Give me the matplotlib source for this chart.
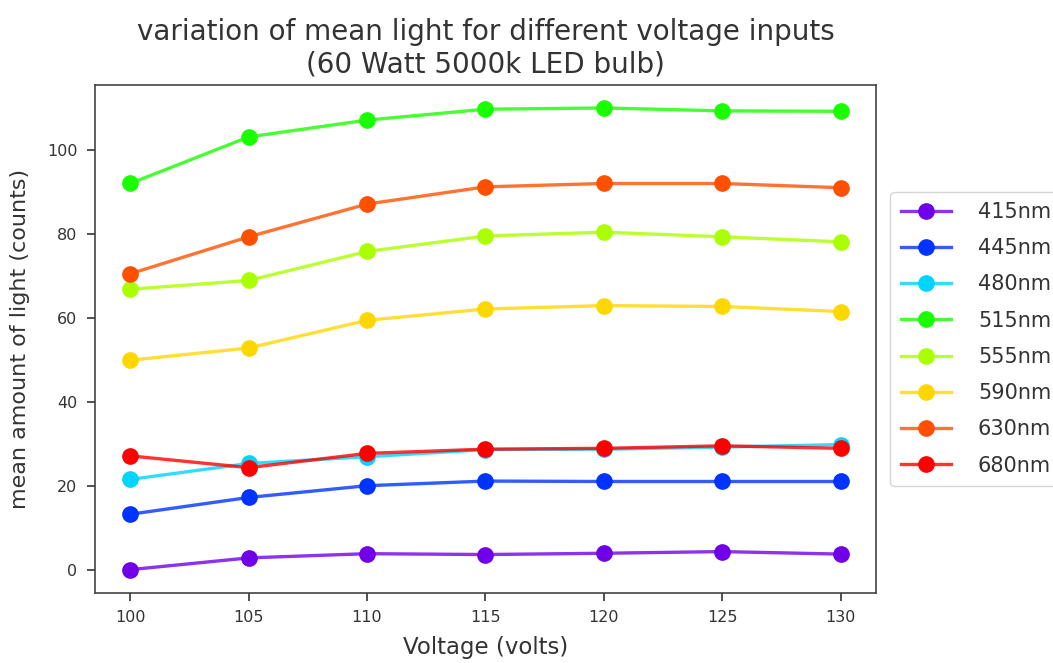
import matplotlib
matplotlib.use("Agg")
import matplotlib.pyplot as plt
from matplotlib.colors import to_rgba

voltages = [100, 105, 110, 115, 120, 125, 130]
labels = ["415nm", "445nm", "480nm", "515nm", "555nm", "590nm", "630nm", "680nm"]
colors = ["#7000e8", "#0033ff", "#00d4ff", "#1aff00", "#aaff00", "#ffd700", "#ff5000", "#ff0000"]

s415 = [0.0, 2.8, 3.8, 3.6, 3.9, 4.3, 3.7]
s445 = [13.2, 17.2, 20.0, 21.1, 21.0, 21.0, 21.0]
s480 = [21.5, 25.3, 26.9, 28.6, 28.7, 29.2, 29.8]
s515 = [92.0, 103.1, 107.1, 109.7, 110.0, 109.3, 109.2]
s555 = [66.8, 68.9, 75.8, 79.5, 80.4, 79.3, 78.1]
s590 = [49.9, 52.8, 59.4, 62.1, 62.9, 62.7, 61.5]
s630 = [70.5, 79.3, 87.1, 91.2, 92.0, 92.0, 91.0]
s680 = [27.1, 24.3, 27.7, 28.7, 28.9, 29.5, 28.9]
series = [s415, s445, s480, s515, s555, s590, s630, s680]

fig = plt.figure(figsize=(10.53, 6.63), dpi=100)
ax = fig.add_axes([0.090, 0.106, 0.742, 0.766])

for vals, lab, c in zip(series, labels, colors):
    ax.plot(voltages, vals, color=to_rgba(c, 0.8), marker="o", markersize=11,
            markerfacecolor=c, markeredgecolor=c, linewidth=2.4, label=lab)

ax.set_xticks(voltages)
ax.tick_params(labelsize=11.5, colors="#333333", length=5.5, width=1.2, pad=7)
for sp in ax.spines.values():
    sp.set_color("#444444")
    sp.set_linewidth(1.2)
ax.set_title("variation of mean light for different voltage inputs\n(60 Watt 5000k LED bulb)",
             fontsize=20, color="#333333", pad=9, linespacing=1.2)
ax.set_xlabel("Voltage (volts)", fontsize=16.5, color="#333333", labelpad=8)
ax.set_ylabel("mean amount of light (counts)", fontsize=16, color="#333333", labelpad=12)
leg = ax.legend(loc="center left", bbox_to_anchor=(1.005, 0.5), fontsize=15,
                handlelength=2.4, handletextpad=1.3, labelspacing=0.78, borderpad=0.5)
for t in leg.get_texts():
    t.set_color("#333333")

fig.savefig("out.png", dpi=100)
